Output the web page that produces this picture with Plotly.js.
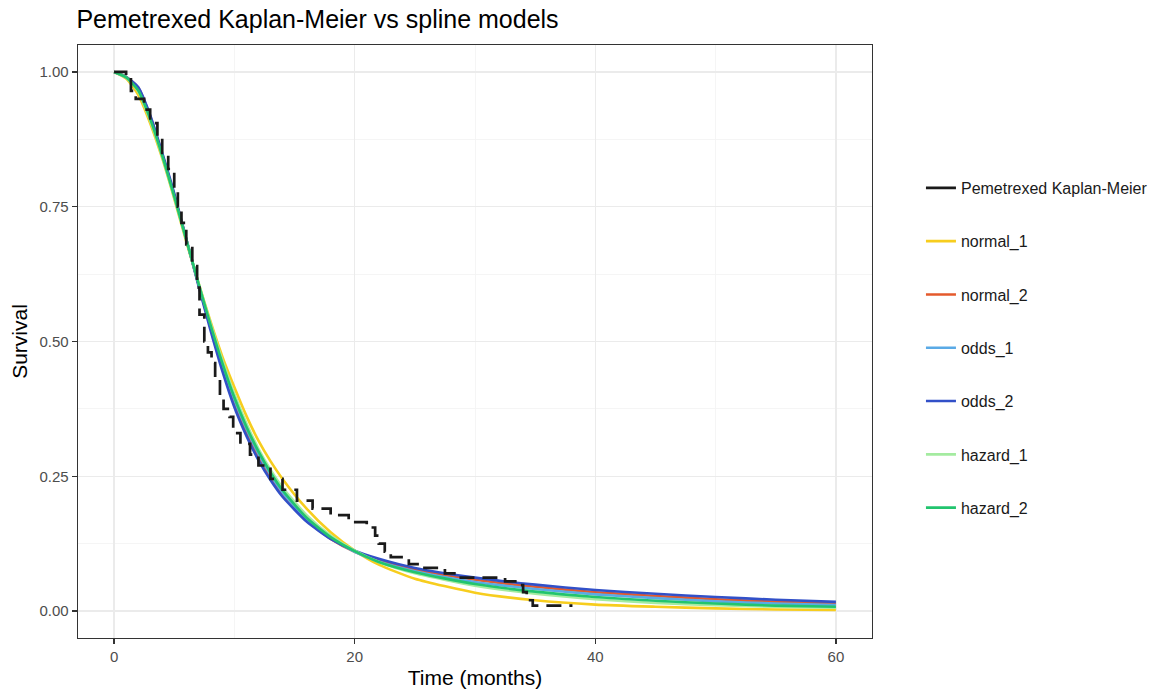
<!DOCTYPE html>
<html>
<head>
<meta charset="utf-8">
<script src="https://cdn.plot.ly/plotly-3.0.1.min.js"></script>
<style>body{margin:0;background:#fff}#chart{width:1158px;height:695px}</style>
</head>
<body>
<div id="chart"></div>
<script>
// Kaplan-Meier step data
const kmTime = [0,1.0,1.4,1.8,2.5,3.0,3.6,4.0,4.5,5.0,5.3,5.6,6.0,6.5,6.9,7.1,7.5,7.8,8.1,8.4,8.8,9.1,9.6,9.9,10.5,11.3,12.0,13.0,14.0,15.2,16.5,18.0,19.5,21.0,21.7,22.0,22.5,23.0,24.5,25.5,27.5,28.5,32.5,33.5,34.0,34.3,34.8,38.1];
const kmSurv = [1.0,0.99,0.965,0.95,0.93,0.905,0.88,0.85,0.82,0.78,0.75,0.72,0.68,0.64,0.60,0.55,0.50,0.48,0.46,0.43,0.40,0.375,0.36,0.33,0.31,0.29,0.27,0.245,0.225,0.205,0.19,0.178,0.165,0.155,0.14,0.125,0.11,0.10,0.087,0.08,0.07,0.062,0.055,0.048,0.035,0.02,0.01,0.01];

// Spline model curves
const modelTime = [0,1,2,3,4,5,6,7,8,9,10,11,12,13,14,16,18,20,22,25,30,35,40,45,50,55,60];
const normal1 = [1,0.988,0.958,0.905,0.84,0.765,0.685,0.61,0.538,0.472,0.415,0.362,0.316,0.278,0.245,0.19,0.146,0.112,0.086,0.06,0.034,0.02,0.012,0.008,0.005,0.003,0.002];
const normal2 = [1,0.991,0.971,0.918,0.848,0.772,0.69,0.607,0.527,0.453,0.387,0.333,0.287,0.249,0.217,0.168,0.134,0.11,0.094,0.077,0.058,0.045,0.035,0.028,0.022,0.017,0.014];
const odds1 = [1,0.99,0.968,0.915,0.846,0.77,0.69,0.608,0.53,0.457,0.392,0.338,0.292,0.253,0.22,0.17,0.135,0.11,0.092,0.074,0.054,0.041,0.031,0.024,0.018,0.014,0.011];
const odds2 = [1,0.991,0.972,0.92,0.85,0.775,0.69,0.605,0.522,0.445,0.378,0.325,0.28,0.243,0.212,0.166,0.134,0.112,0.097,0.08,0.062,0.049,0.039,0.032,0.026,0.021,0.017];
const hazard1 = [1,0.99,0.964,0.91,0.843,0.767,0.688,0.61,0.535,0.465,0.402,0.348,0.301,0.262,0.229,0.178,0.14,0.112,0.091,0.07,0.047,0.032,0.022,0.015,0.011,0.008,0.006];
const hazard2 = [1,0.99,0.966,0.913,0.845,0.769,0.689,0.609,0.532,0.46,0.396,0.342,0.296,0.257,0.224,0.173,0.137,0.111,0.091,0.072,0.05,0.036,0.026,0.019,0.014,0.01,0.008];

const seriesNames = ["Pemetrexed Kaplan-Meier","normal_1","normal_2","odds_1","odds_2","hazard_1","hazard_2"];
const seriesColors = ["#1a1a1a","#F7CD1E","#E45A2C","#5AAAE6","#3250C8","#A4EBA0","#22C46E"];
const modelData = [normal1, normal2, odds1, odds2, hazard1, hazard2];

const traces = [];
modelData.forEach((ys, i) => {
  traces.push({
    x: modelTime, y: ys, type: 'scatter', mode: 'lines',
    name: seriesNames[i+1], legendgroup: 'g'+(i+1), legendrank: i+2,
    line: {color: seriesColors[i+1], width: 2.6, shape: 'spline', smoothing: 0.6}
  });
});
traces.push({
  x: kmTime, y: kmSurv, type: 'scatter', mode: 'lines',
  name: seriesNames[0], legendgroup: 'g0', showlegend: false,
  line: {color: seriesColors[0], width: 2.7, shape: 'hv', dash: '15px,8px'}
});
// legend entry for KM with a solid key, as in the reference
traces.push({
  x: [null], y: [null], type: 'scatter', mode: 'lines',
  name: seriesNames[0], legendgroup: 'g0', legendrank: 1, showlegend: true,
  line: {color: seriesColors[0], width: 2.7}
});

const fam = 'Liberation Sans, Arial, sans-serif';
const axisFont = {family: fam, size: 15, color: '#4d4d4d'};
const layout = {
  width: 1158, height: 695,
  margin: {l: 78, r: 286, t: 45, b: 57, autoexpand: false},
  paper_bgcolor: '#fff', plot_bgcolor: '#fff',
  font: {family: fam, color: '#000'},
  title: {text: 'Pemetrexed Kaplan-Meier vs spline models', x: 0.066, xanchor: 'left', y: 0.972, yanchor: 'middle',
          font: {size: 25, color: '#000', family: fam}},
  xaxis: {
    range: [-3, 63], tickvals: [0,20,40,60], ticktext: ['0','20','40','60'],
    showgrid: true, gridcolor: '#ebebeb', gridwidth: 1.2,
    minor: {tickvals: [10,30,50], showgrid: true, gridcolor: '#f4f4f4', gridwidth: 0.9, ticklen: 0},
    zeroline: false, showline: true, mirror: true, linecolor: '#333', linewidth: 1.3,
    ticks: 'outside', ticklen: 5, tickwidth: 1.3, tickcolor: '#333', tickfont: axisFont,
    title: {text: 'Time (months)', font: {size: 21, color: '#000'}, standoff: 6}
  },
  yaxis: {
    range: [-0.05, 1.05], tickvals: [0,0.25,0.5,0.75,1], ticktext: ['0.00','0.25','0.50','0.75','1.00'],
    showgrid: true, gridcolor: '#ebebeb', gridwidth: 1.2,
    minor: {tickvals: [0.125,0.375,0.625,0.875], showgrid: true, gridcolor: '#f4f4f4', gridwidth: 0.9, ticklen: 0},
    zeroline: false, showline: true, mirror: true, linecolor: '#333', linewidth: 1.3,
    ticks: 'outside', ticklen: 5, tickwidth: 1.3, tickcolor: '#333', tickfont: axisFont,
    title: {text: 'Survival', font: {size: 21, color: '#000'}, standoff: 6}
  },
  showlegend: true,
  legend: {xref: 'container', yref: 'container', x: 0.7953, xanchor: 'left', y: 0.754, yanchor: 'top', traceorder: 'grouped',
           tracegroupgap: 29.5, font: {size: 16, color: '#1a1a1a', family: fam}, bgcolor: 'rgba(0,0,0,0)'}
};
Plotly.newPlot('chart', traces, layout, {displayModeBar: false, staticPlot: true});
</script>
</body>
</html>
